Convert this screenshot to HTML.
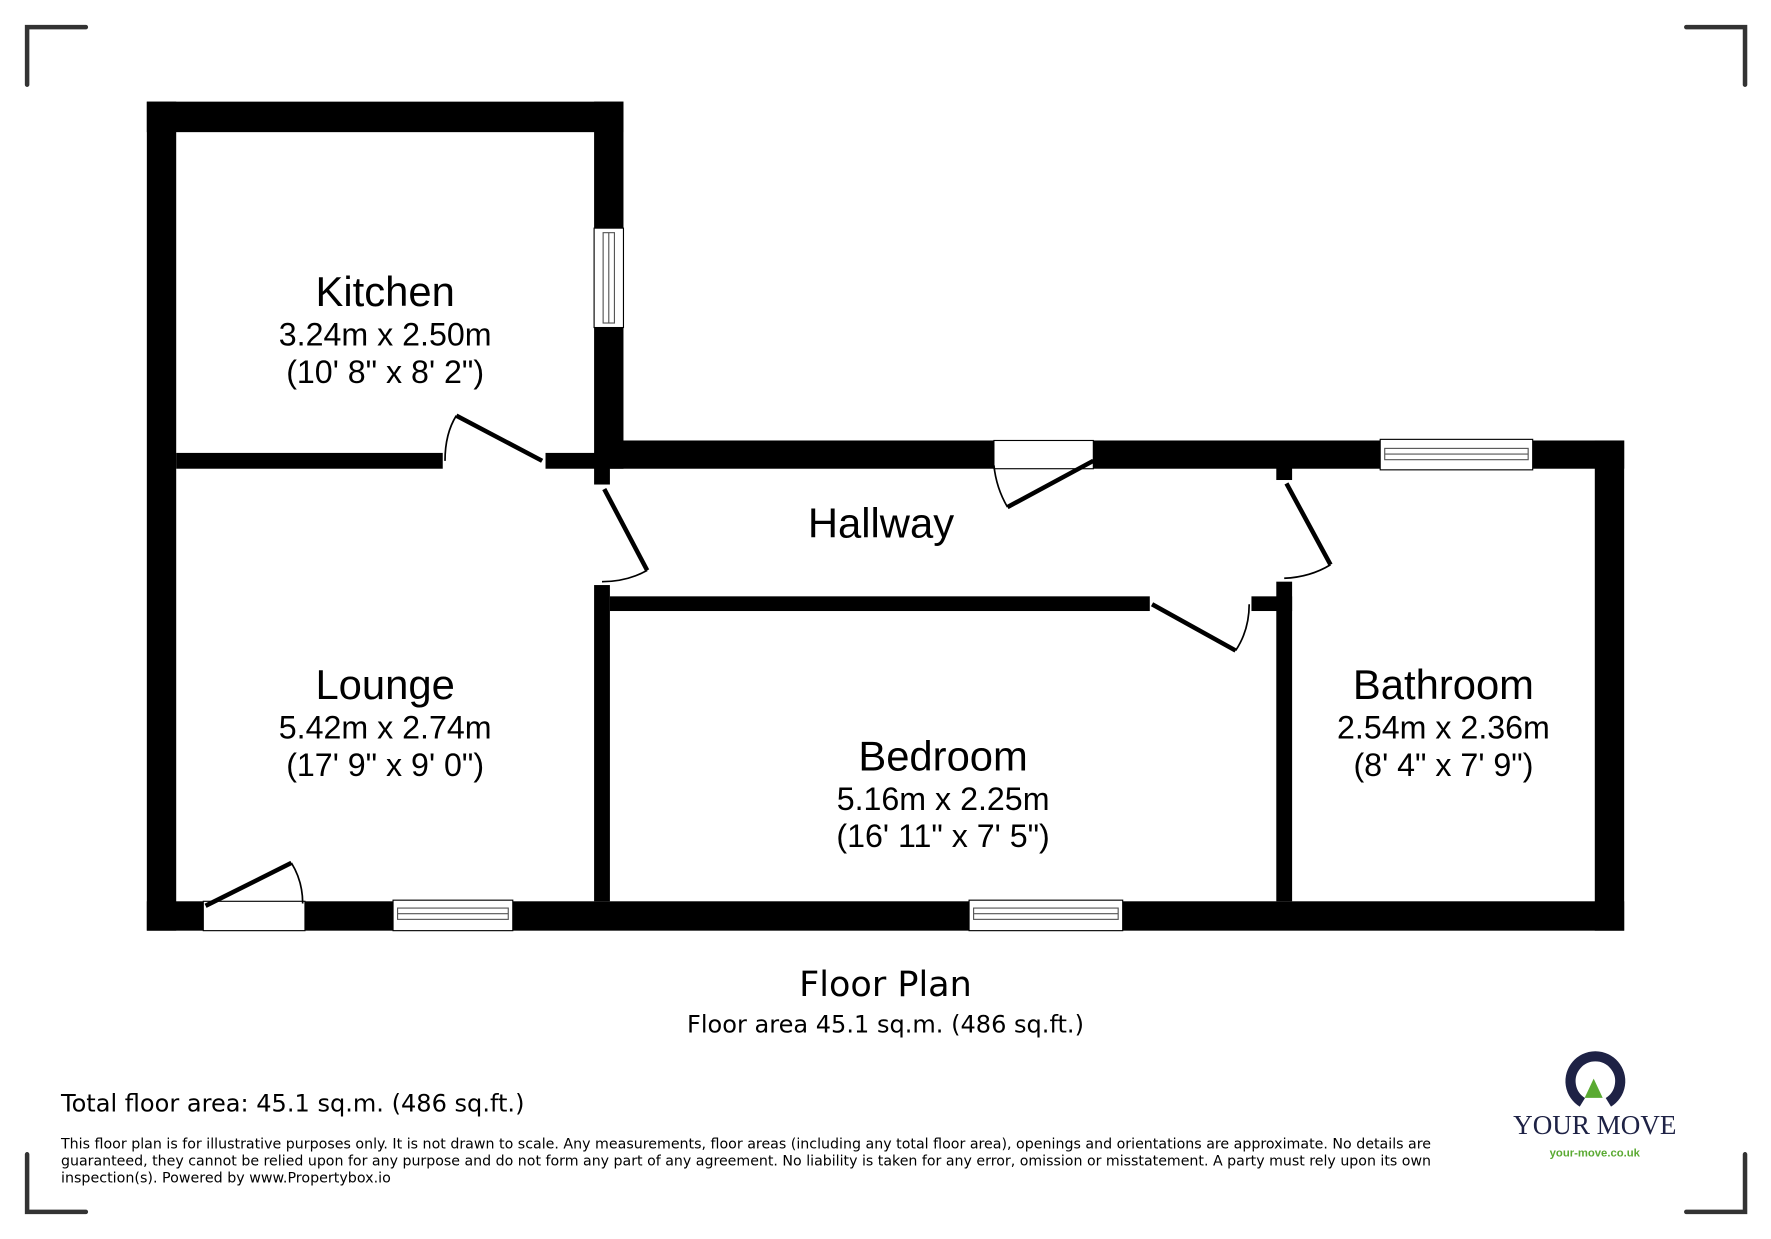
<!DOCTYPE html>
<html><head><meta charset="utf-8"><style>
html,body{margin:0;padding:0;background:#fff}
svg{display:block}
text{font-family:"Liberation Sans",sans-serif;fill:#000}
.d,.d text{font-family:"DejaVu Sans",sans-serif}
</style></head><body>
<svg width="1771" height="1239" viewBox="0 0 1568 1097" preserveAspectRatio="none" xmlns="http://www.w3.org/2000/svg">
<rect width="1568" height="1097" fill="#fff"/>
<g stroke="#333" stroke-width="4" fill="none" stroke-linecap="round">
<path d="M76 24H24V75"/><path d="M1493 24H1545V75"/>
<path d="M24 1022V1073H76"/><path d="M1545 1022V1073H1493"/>
</g>
<g fill="#000">
<rect x="130" y="90" width="26" height="734"/>
<rect x="130" y="90" width="422" height="27"/>
<rect x="526" y="90" width="26" height="325"/>
<rect x="156" y="401" width="236" height="14"/>
<rect x="483" y="401" width="50" height="14"/>
<rect x="526" y="401" width="14" height="28"/>
<rect x="540" y="390" width="898" height="25"/>
<rect x="1412" y="390" width="26" height="434"/>
<rect x="130" y="798" width="1308" height="26"/>
<rect x="526" y="518" width="14" height="280"/>
<rect x="540" y="528" width="478" height="13"/>
<rect x="1108" y="528" width="36" height="13"/>
<rect x="1130" y="515" width="14" height="283"/>
<rect x="1130" y="410" width="14" height="15"/>
</g>
<g fill="#fff" stroke="#000" stroke-width="1">
<rect x="180" y="798" width="90" height="26"/>
<rect x="880" y="390" width="88" height="25"/>
</g>
<g fill="#fff" stroke="#000" stroke-width="1">
<rect x="526" y="202" width="26" height="88"/>
<rect x="348" y="797" width="106" height="27"/>
<rect x="858" y="797" width="136" height="27"/>
<rect x="1222" y="389" width="135" height="27"/>
</g>
<g fill="none" stroke="#555" stroke-width="1">
<rect x="534" y="206" width="10" height="80"/><line x1="539" y1="206" x2="539" y2="286"/>
<rect x="352" y="804" width="98" height="10"/><line x1="352" y1="809" x2="450" y2="809"/>
<rect x="862" y="804" width="128" height="10"/><line x1="862" y1="809" x2="990" y2="809"/>
<rect x="1226" y="397" width="127" height="10"/><line x1="1226" y1="402" x2="1353" y2="402"/>
</g>
<g stroke="#000" stroke-width="4" fill="none">
<line x1="480" y1="408" x2="404" y2="368"/>
<line x1="535" y1="433" x2="573" y2="505"/>
<line x1="968" y1="408" x2="892" y2="449"/>
<line x1="1020" y1="535" x2="1094" y2="576"/>
<line x1="1139" y1="428" x2="1178" y2="500"/>
<line x1="182" y1="802" x2="258" y2="764"/>
</g>
<g stroke="#000" stroke-width="1.5" fill="none">
<path d="M404 368 Q394 384 394 408"/>
<path d="M573 505 Q555 515 533 515"/>
<path d="M892 449 Q882 432 880 412"/>
<path d="M1094 576 Q1106 558 1106 535"/>
<path d="M1178 500 Q1160 511 1137 512"/>
<path d="M258 764 Q268 780 268 800"/>
</g>
<g text-anchor="middle">
<text x="341" y="271" font-size="37">Kitchen</text>
<text x="341" y="306" font-size="28.5">3.24m x 2.50m</text>
<text x="341" y="339" font-size="28.5">(10' 8" x 8' 2")</text>
<text x="780" y="476" font-size="37">Hallway</text>
<text x="341" y="619" font-size="37">Lounge</text>
<text x="341" y="654" font-size="28.5">5.42m x 2.74m</text>
<text x="341" y="687" font-size="28.5">(17' 9" x 9' 0")</text>
<text x="835" y="682" font-size="37">Bedroom</text>
<text x="835" y="717" font-size="28.5">5.16m x 2.25m</text>
<text x="835" y="750" font-size="28.5">(16' 11" x 7' 5")</text>
<text x="1278" y="619" font-size="37">Bathroom</text>
<text x="1278" y="654" font-size="28.5">2.54m x 2.36m</text>
<text x="1278" y="687" font-size="28.5">(8' 4" x 7' 9")</text>
<text x="784" y="882" font-size="31" class="d">Floor Plan</text>
<text x="784" y="914" font-size="21.3" class="d">Floor area 45.1 sq.m. (486 sq.ft.)</text>
</g>
<text x="54" y="984" font-size="21.3" class="d">Total floor area: 45.1 sq.m. (486 sq.ft.)</text>
<g font-size="12.4" class="d" fill="#333">
<text x="54" y="1017" textLength="1213" lengthAdjust="spacingAndGlyphs">This floor plan is for illustrative purposes only. It is not drawn to scale. Any measurements, floor areas (including any total floor area), openings and orientations are approximate. No details are</text>
<text x="54" y="1032" textLength="1213" lengthAdjust="spacingAndGlyphs">guaranteed, they cannot be relied upon for any purpose and do not form any part of any agreement. No liability is taken for any error, omission or misstatement. A party must rely upon its own</text>
<text x="54" y="1047" textLength="292" lengthAdjust="spacingAndGlyphs">inspection(s). Powered by www.Propertybox.io</text>
</g>
<path d="M1401 976 A22 22 0 1 1 1424 976" fill="none" stroke="#1e2245" stroke-width="9"/>
<polygon points="1411,955 1403,972 1419,972" fill="#5aaa32"/>
<text x="1412" y="1004" font-size="24" text-anchor="middle" style="font-family:'Liberation Serif',serif;fill:#1e2245">YOUR MOVE</text>
<text x="1412" y="1024" font-size="10" text-anchor="middle" font-weight="bold" style="fill:#5aaa32">your-move.co.uk</text>
</svg>
</body></html>
